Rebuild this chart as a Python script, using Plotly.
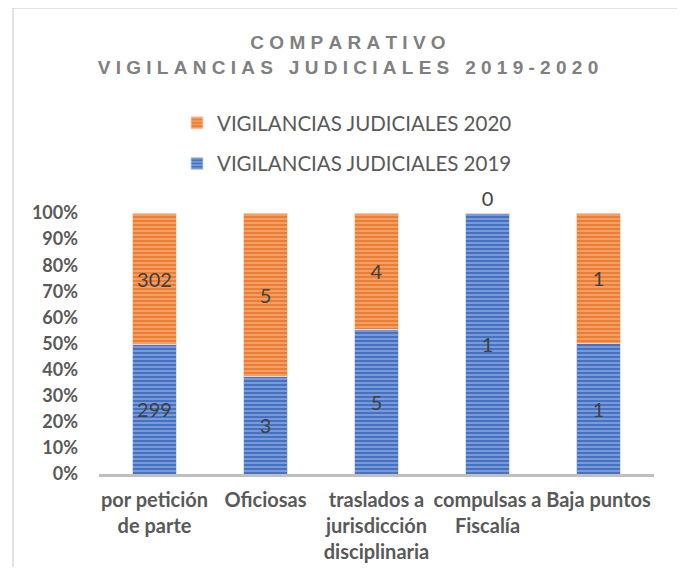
import plotly.graph_objects as go

categories = ["por petición<br>de parte", "Oficiosas", "traslados a<br>jurisdicción<br>disciplinaria",
              "compulsas a<br>Fiscalía", "Baja puntos"]
values_2019 = [299, 3, 5, 1, 1]
values_2020 = [302, 5, 4, 0, 1]
series_names = ["VIGILANCIAS JUDICIALES 2019", "VIGILANCIAS JUDICIALES 2020"]
title_lines = ["COMPARATIVO", "VIGILANCIAS JUDICIALES 2019-2020"]

BLUE = "#4472C4"
ORANGE = "#ED7D31"
NB = "\u00a0"


def spaced(s):
    words = s.split(" ")
    return (NB * 3).join(NB.join(list(w)) for w in words)


title_text = "<b>" + "<br>".join(spaced(t) for t in title_lines) + "</b>"

# page has an 8px body margin; figure coordinates = page coordinates - 8
OFF = 8
W, H = 685 - 2 * OFF, 575 - 2 * OFF
L = 99 - OFF
T = 213 - OFF
R = W - (654 - OFF)
B = H - (474 - OFF)
pw, ph = W - L - R, H - T - B

fig = go.Figure()
fig.add_trace(go.Bar(
    x=categories, y=values_2019, name=series_names[0], legendgroup="g2019", legendrank=2,
    text=[str(v) for v in values_2019], texttemplate="%{text}",
    textposition="inside", insidetextanchor="middle", textangle=0,
    textfont=dict(family="Lato", size=20, color="#404040"),
    marker=dict(color=BLUE, line=dict(color="rgba(200,215,240,0.8)", width=1),
                pattern=dict(shape="-", fgcolor="#DCE5F5", size=4, solidity=0.35,
                             fillmode="overlay")),
    width=0.39, cliponaxis=False,
))
fig.add_trace(go.Bar(
    x=categories, y=values_2020, name=series_names[1], legendgroup="g2020", legendrank=1,
    text=[str(v) for v in values_2020], texttemplate="%{text}",
    textposition=["inside", "inside", "inside", "outside", "inside"],
    insidetextanchor="middle", textangle=0,
    textfont=dict(family="Lato", size=20, color="#404040"),
    outsidetextfont=dict(family="Lato", size=20, color="#404040"),
    marker=dict(color=ORANGE, line=dict(color="rgba(250,215,190,0.8)", width=1),
                pattern=dict(shape="-", fgcolor="#FBDFCB", size=4, solidity=0.35,
                             fillmode="overlay")),
    width=0.39, cliponaxis=False,
))

fig.update_layout(
    width=W, height=H,
    margin=dict(l=L, r=R, t=T, b=B, autoexpand=False),
    barmode="stack", barnorm="percent",
    paper_bgcolor="white", plot_bgcolor="white",
    title=dict(text=title_text, xref="container", x=(348 - OFF) / W, xanchor="center",
               yref="container", y=1 - (49 - OFF) / H, yanchor="top",
               font=dict(family="Liberation Sans", size=19, color="#808080")),
    legend=dict(xref="container", x=(177 - OFF) / W, xanchor="left",
                yref="container", y=1 - (103 - OFF) / H, yanchor="top",
                orientation="v", traceorder="grouped", tracegroupgap=11,
                font=dict(family="Lato", size=20.5, color="#595959"),
                bgcolor="rgba(0,0,0,0)"),
    xaxis=dict(showline=True, linecolor="#BFBFBF", linewidth=3, ticks="",
               showgrid=False, zeroline=False,
               tickfont=dict(family="Lato", size=20, color="#595959", weight="bold"),
               ticklabelstandoff=6, tickangle=0),
    yaxis=dict(range=[0, 100], dtick=10, ticksuffix="%", showgrid=False,
               zeroline=False, showline=False, ticks="",
               tickfont=dict(family="Lato", size=18, color="#595959", weight="bold"),
               ticklabelstandoff=20),
    showlegend=True,
    shapes=[dict(type="rect", xref="paper", yref="paper",
                 x0=(13 - 99) / pw, x1=(684 - 99) / pw,
                 y0=-(600 - 474) / ph, y1=(474 - 8) / ph,
                 line=dict(color="#D9D9D9", width=1.5), layer="below")],
)

fig.write_html("out.html")
